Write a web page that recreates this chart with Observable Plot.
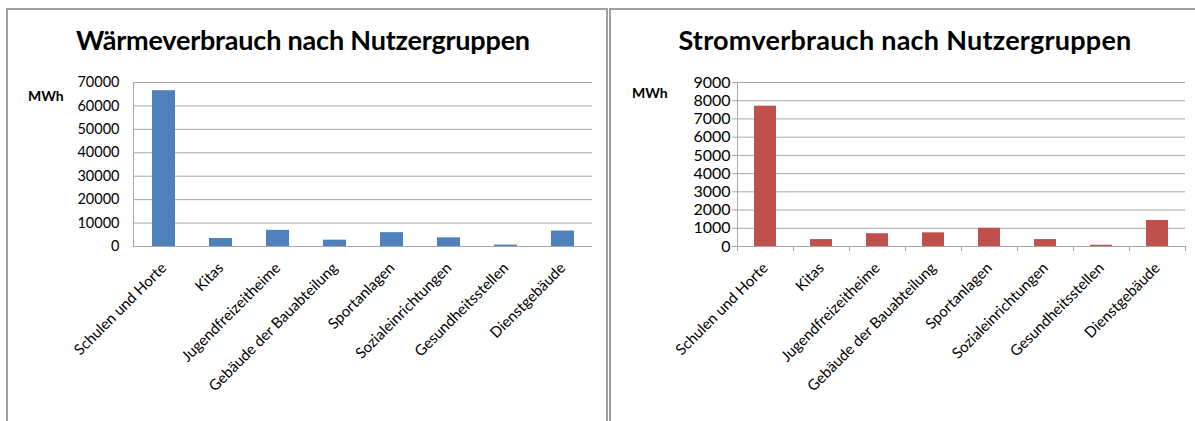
<!DOCTYPE html>
<html><head><meta charset="utf-8">
<script src="https://cdn.jsdelivr.net/npm/d3@7"></script>
<script src="https://cdn.jsdelivr.net/npm/@observablehq/plot@0.6"></script>
<style>
body{margin:0;background:#fff;overflow:hidden;}
#page{position:relative;width:1195px;height:421px;overflow:hidden;font-family:Lato,sans-serif;background:#fff;}
.panel{position:absolute;border:2px solid #a0a0a0;box-sizing:border-box;}
.title{position:absolute;font-weight:bold;font-size:27px;line-height:1;white-space:nowrap;color:#000;transform:translateX(-50%);letter-spacing:-0.2px;}
.unit{position:absolute;font-weight:bold;font-size:14px;line-height:1;color:#000;}
.chart{position:absolute;top:0;}
</style></head><body><div id="page"></div>
<script>
const categories = ["Schulen und Horte", "Kitas", "Jugendfreizeitheime", "Gebäude der Bauabteilung", "Sportanlagen", "Sozialeinrichtungen", "Gesundheitsstellen", "Dienstgebäude"];
const waermeValues = [66500, 3400, 6900, 2700, 5900, 3700, 600, 6600];
const stromValues = [7700, 380, 700, 750, 1000, 380, 70, 1430];
const waermeTicks = [0, 10000, 20000, 30000, 40000, 50000, 60000, 70000];
const stromTicks = [0, 1000, 2000, 3000, 4000, 5000, 6000, 7000, 8000, 9000];
const titles = ["Wärmeverbrauch nach Nutzergruppen", "Stromverbrauch nach Nutzergruppen"];
const unitLabel = "MWh";

const page = document.getElementById("page");
function el(cls, css, text) {
  const d = document.createElement("div");
  d.className = cls;
  Object.assign(d.style, css);
  if (text) d.textContent = text;
  page.appendChild(d);
  return d;
}
el("panel", {left: "6px", top: "8px", width: "602px", height: "430px"});
el("panel", {left: "609px", top: "8px", width: "600px", height: "430px"});
el("title", {left: "303px", top: "26px"}, titles[0]);
el("title", {left: "905px", top: "26px", letterSpacing: "0.25px"}, titles[1]);
el("unit", {left: "28px", top: "89px"}, unitLabel);
el("unit", {left: "632px", top: "86px"}, unitLabel);

const grid = "#a6a6a6";
function chart(values, ticks, color, opts) {
  const data = categories.map((c, i) => ({cat: c, value: values[i]}));
  const plotW = opts.width - opts.marginLeft - opts.marginRight;
  const step = plotW / categories.length;
  const marks = [
    Plot.gridY(ticks, {stroke: grid, strokeOpacity: 1}),
    Plot.barY(data, {x: "cat", y: "value", fill: color}),
    Plot.ruleY([0], {stroke: grid}),
    Plot.frame({anchor: "left", stroke: grid}),
    Plot.axisY(ticks, {tickSize: opts.yTickSize, tickPadding: opts.yTickPadding, fontSize: opts.yFontSize, tickFormat: d => String(d), label: null, stroke: grid}),
    Plot.axisX({tickSize: 0, tickRotate: -45, tickPadding: opts.xTickPadding, fontSize: 15, label: null})
  ];
  if (opts.boundaryTicks) {
    marks.push(Plot.ruleX(categories, {x: d => d, dx: -step / 2, y1: 0, y2: 0, insetBottom: -5, stroke: grid}));
    marks.push(Plot.ruleX([categories[categories.length - 1]], {x: d => d, dx: step / 2, y1: 0, y2: 0, insetBottom: -5, stroke: grid}));
  }
  return Plot.plot({
    width: opts.width, height: 421,
    marginLeft: opts.marginLeft, marginRight: opts.marginRight, marginTop: 82, marginBottom: 175,
    style: {fontFamily: "Lato, sans-serif", color: "#000", background: "transparent", overflow: "visible"},
    x: {domain: categories, paddingInner: 0.6, paddingOuter: 0.3},
    y: {domain: [ticks[0], ticks[ticks.length - 1]]},
    marks
  });
}
const c1 = chart(waermeValues, waermeTicks, "#4F81BD", {width: 605, marginLeft: 133, marginRight: 13, yTickSize: 0, yTickPadding: 14, yFontSize: 14.5, xTickPadding: 19, boundaryTicks: false});
c1.classList.add("chart"); c1.style.left = "0px";
page.appendChild(c1);
const c2 = chart(stromValues, stromTicks, "#C0504D", {width: 590, marginLeft: 132, marginRight: 10, yTickSize: 5, yTickPadding: 2, yFontSize: 16, xTickPadding: 19, boundaryTicks: true});
c2.classList.add("chart"); c2.style.left = "605px";
page.appendChild(c2);
</script></body></html>
